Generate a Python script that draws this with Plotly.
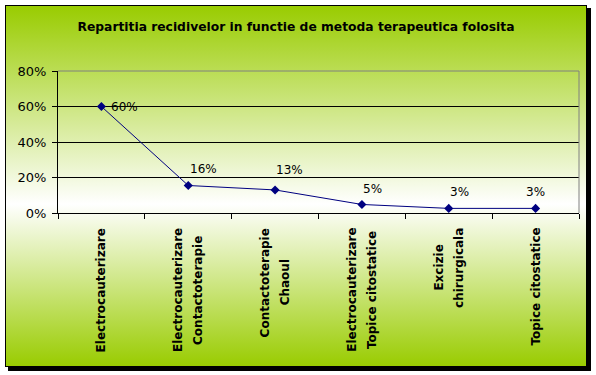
import base64
import plotly.graph_objects as go

# ---- data ----
categories = [
    "Electrocauterizare",
    "Electrocauterizare<br>Contactoterapie",
    "Contactoterapie<br>Chaoul",
    "Electrocauterizare<br>Topice citostatice",
    "Excizie<br>chirurgicala",
    "Topice citostatice",
]
values = [0.60, 0.155, 0.13, 0.048, 0.026, 0.026]
y_ticks = [0, 0.2, 0.4, 0.6, 0.8]
title_text = "Repartitia recidivelor in functie de metoda terapeutica folosita"

# ---- geometry / style ----
W, H = 596, 375
ML, MR, MT, MB = 58, 17, 71, 162
PW, PH = W - ML - MR, H - MT - MB
NAVY = "#000080"
LBL_FONT = "DejaVu Sans"
# data-label placement (pixel offsets from each point, as in the original)
lbl_anchor = ["left", "left", "left", "left", "left", "center"]
lbl_dx = [8, 0, -1, -1, -1, 0]
lbl_dy = [0, 16, 20, 15.5, 16.5, 16.5]

svg = f'''<svg xmlns="http://www.w3.org/2000/svg" width="{W}" height="{H}" viewBox="0 0 {W} {H}" preserveAspectRatio="none">
<defs><linearGradient id="g" x1="0" y1="0" x2="0" y2="1">
<stop offset="0" stop-color="#99CC00"/><stop offset="0.55" stop-color="#FFFFFF"/><stop offset="1" stop-color="#99CC00"/>
</linearGradient></defs>
<rect x="8" y="8" width="583" height="363" fill="#000000"/>
<rect x="5.5" y="5.5" width="581" height="361" fill="url(#g)" stroke="#000000" stroke-width="1"/>
</svg>'''
bg_uri = "data:image/svg+xml;base64," + base64.b64encode(svg.encode()).decode()

fig = go.Figure()
fig.add_trace(go.Scatter(
    x=categories, y=values, mode="lines+markers",
    line=dict(color=NAVY, width=1),
    marker=dict(symbol="diamond", size=7, color=NAVY),
    cliponaxis=False, hoverinfo="skip", showlegend=False,
))

annotations = []
# data labels
for i, (c, v) in enumerate(zip(categories, values)):
    annotations.append(dict(
        x=c, y=v, xref="x", yref="y", text=f"{int(v * 100 + 0.5)}%",
        showarrow=False, xanchor=lbl_anchor[i], yanchor="middle",
        xshift=lbl_dx[i], yshift=lbl_dy[i],
        font=dict(family=LBL_FONT, size=12, color="black"),
    ))

# category labels (rotated, centred lines, wider line spacing)
FS = 12
extra = 20 - 1.3 * FS
for c in categories:
    lines = c.split("<br>")
    n = len(lines)
    for k in range(n):
        parts = [ln if j == k else f"<span style='color:rgba(0,0,0,0)'>{ln}</span>"
                 for j, ln in enumerate(lines)]
        annotations.append(dict(
            x=c, y=0, xref="x", yref="paper", text="<br>".join(parts),
            showarrow=False, textangle=-90, xanchor="center", yanchor="top",
            align="center", yshift=-13, xshift=(k - (n - 1) / 2) * extra,
            font=dict(family=LBL_FONT, size=FS, color="black", weight="bold"),
        ))

fig.update_layout(
    width=W, height=H,
    margin=dict(l=ML, r=MR, t=MT, b=MB, pad=0),
    paper_bgcolor="white", plot_bgcolor="white",
    title=dict(text=title_text, x=296 / W, xanchor="center", y=1 - 27 / H, yanchor="middle",
               font=dict(family=LBL_FONT, size=12.3, color="black", weight="bold")),
    xaxis=dict(type="category", range=[-0.5, len(categories) - 0.5],
               tickson="boundaries", ticks="outside", ticklen=5,
               tickcolor="black", showline=True, linecolor="black", linewidth=1,
               showticklabels=False, showgrid=False, zeroline=False, fixedrange=True),
    yaxis=dict(range=[0, 0.8], tickvals=y_ticks, tickformat=".0%", ticks="outside",
               ticklen=5, tickcolor="black", showline=True, linecolor="black",
               linewidth=1, showgrid=True, gridcolor="black", gridwidth=1,
               zeroline=False, tickfont=dict(family="DejaVu Sans", size=13, color="black"),
               ticklabelstandoff=3, fixedrange=True),
    annotations=annotations,
    images=[dict(source=bg_uri, xref="paper", yref="paper", x=-ML / PW, y=(PH + MT) / PH,
                 sizex=W / PW, sizey=H / PH, xanchor="left", yanchor="top",
                 sizing="stretch", layer="below")],
    shapes=[
        dict(type="line", xref="paper", yref="paper", x0=0, x1=1, y0=1, y1=1,
             line=dict(color="#808080", width=1), layer="above"),
        dict(type="line", xref="paper", yref="paper", x0=1, x1=1, y0=0, y1=1,
             line=dict(color="#808080", width=1), layer="above"),
    ],
)

fig.write_html("out.html", config={"displayModeBar": False},
               post_script="document.body.style.margin='0';")
